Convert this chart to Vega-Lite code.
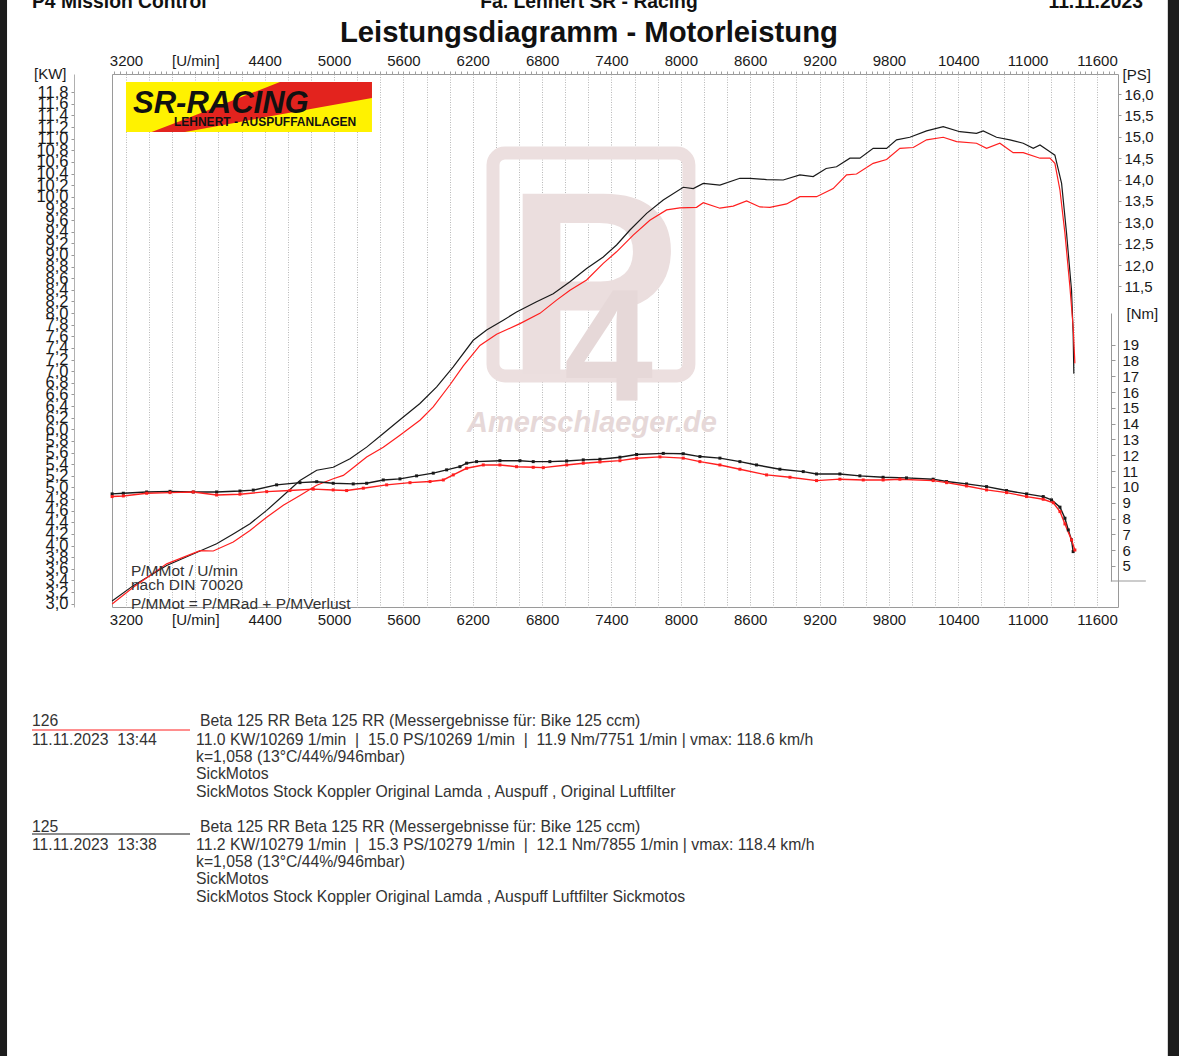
{
  "$schema": "https://vega.github.io/schema/vega-lite/v6.json",
  "width": 1006,
  "height": 533,
  "autosize": {"type": "none"},
  "padding": {"left": 112, "top": 74, "right": 61, "bottom": 449},
  "background": "#ffffff",
  "config": {
    "view": {"stroke": "#9a9a9a", "strokeWidth": 1},
    "font": "Liberation Sans",
    "axis": {"labelFont": "Liberation Sans", "labelFontSize": 15, "labelColor": "#1a1a1a", "titleFont": "Liberation Sans", "titleFontSize": 15, "titleFontWeight": "normal", "titleColor": "#1a1a1a", "domain": false, "ticks": false, "grid": false, "labelOverlap": false, "labelBound": false, "labelFlush": false}
  },
  "datasets": {
    "power": [
      {"run": "125", "rpm": 3080, "ps": 4.14}, {"run": "125", "rpm": 3263, "ps": 4.5}, {"run": "125", "rpm": 3552, "ps": 4.97}, {"run": "125", "rpm": 3840, "ps": 5.31}, {"run": "125", "rpm": 3984, "ps": 5.48}, {"run": "125", "rpm": 4128, "ps": 5.71}, {"run": "125", "rpm": 4273, "ps": 5.95}, {"run": "125", "rpm": 4417, "ps": 6.26}, {"run": "125", "rpm": 4561, "ps": 6.61}, {"run": "125", "rpm": 4705, "ps": 6.96}, {"run": "125", "rpm": 4850, "ps": 7.2}, {"run": "125", "rpm": 4993, "ps": 7.27}, {"run": "125", "rpm": 5138, "ps": 7.47}, {"run": "125", "rpm": 5282, "ps": 7.74}, {"run": "125", "rpm": 5426, "ps": 8.06}, {"run": "125", "rpm": 5570, "ps": 8.38}, {"run": "125", "rpm": 5743, "ps": 8.76}, {"run": "125", "rpm": 5888, "ps": 9.15}, {"run": "125", "rpm": 6031, "ps": 9.62}, {"run": "125", "rpm": 6204, "ps": 10.24}, {"run": "125", "rpm": 6320, "ps": 10.48}, {"run": "125", "rpm": 6464, "ps": 10.71}, {"run": "125", "rpm": 6579, "ps": 10.9}, {"run": "125", "rpm": 6752, "ps": 11.14}, {"run": "125", "rpm": 6896, "ps": 11.33}, {"run": "125", "rpm": 7041, "ps": 11.61}, {"run": "125", "rpm": 7185, "ps": 11.92}, {"run": "125", "rpm": 7329, "ps": 12.19}, {"run": "125", "rpm": 7444, "ps": 12.47}, {"run": "125", "rpm": 7560, "ps": 12.82}, {"run": "125", "rpm": 7704, "ps": 13.21}, {"run": "125", "rpm": 7848, "ps": 13.52}, {"run": "125", "rpm": 8021, "ps": 13.82}, {"run": "125", "rpm": 8108, "ps": 13.79}, {"run": "125", "rpm": 8194, "ps": 13.91}, {"run": "125", "rpm": 8338, "ps": 13.87}, {"run": "125", "rpm": 8511, "ps": 14.03}, {"run": "125", "rpm": 8598, "ps": 14.03}, {"run": "125", "rpm": 8742, "ps": 14.0}, {"run": "125", "rpm": 8886, "ps": 13.99}, {"run": "125", "rpm": 9030, "ps": 14.11}, {"run": "125", "rpm": 9145, "ps": 14.07}, {"run": "125", "rpm": 9257, "ps": 14.26}, {"run": "125", "rpm": 9347, "ps": 14.3}, {"run": "125", "rpm": 9463, "ps": 14.5}, {"run": "125", "rpm": 9549, "ps": 14.5}, {"run": "125", "rpm": 9664, "ps": 14.73}, {"run": "125", "rpm": 9780, "ps": 14.73}, {"run": "125", "rpm": 9866, "ps": 14.93}, {"run": "125", "rpm": 9981, "ps": 14.99}, {"run": "125", "rpm": 10126, "ps": 15.14}, {"run": "125", "rpm": 10270, "ps": 15.24}, {"run": "125", "rpm": 10414, "ps": 15.12}, {"run": "125", "rpm": 10558, "ps": 15.08}, {"run": "125", "rpm": 10616, "ps": 15.14}, {"run": "125", "rpm": 10731, "ps": 14.99}, {"run": "125", "rpm": 10847, "ps": 14.93}, {"run": "125", "rpm": 10962, "ps": 14.85}, {"run": "125", "rpm": 11049, "ps": 14.73}, {"run": "125", "rpm": 11107, "ps": 14.81}, {"run": "125", "rpm": 11193, "ps": 14.65}, {"run": "125", "rpm": 11236, "ps": 14.57}, {"run": "125", "rpm": 11294, "ps": 13.91}, {"run": "125", "rpm": 11337, "ps": 12.74}, {"run": "125", "rpm": 11380, "ps": 11.41}, {"run": "125", "rpm": 11394, "ps": 10.4}, {"run": "125", "rpm": 11400, "ps": 9.46},
      {"run": "126", "rpm": 3080, "ps": 4.07}, {"run": "126", "rpm": 3263, "ps": 4.46}, {"run": "126", "rpm": 3552, "ps": 5.01}, {"run": "126", "rpm": 3840, "ps": 5.32}, {"run": "126", "rpm": 3955, "ps": 5.31}, {"run": "126", "rpm": 4128, "ps": 5.52}, {"run": "126", "rpm": 4273, "ps": 5.79}, {"run": "126", "rpm": 4417, "ps": 6.1}, {"run": "126", "rpm": 4561, "ps": 6.38}, {"run": "126", "rpm": 4705, "ps": 6.61}, {"run": "126", "rpm": 4850, "ps": 6.85}, {"run": "126", "rpm": 4993, "ps": 7.0}, {"run": "126", "rpm": 5080, "ps": 7.08}, {"run": "126", "rpm": 5138, "ps": 7.2}, {"run": "126", "rpm": 5282, "ps": 7.51}, {"run": "126", "rpm": 5426, "ps": 7.74}, {"run": "126", "rpm": 5570, "ps": 8.02}, {"run": "126", "rpm": 5743, "ps": 8.37}, {"run": "126", "rpm": 5858, "ps": 8.68}, {"run": "126", "rpm": 6003, "ps": 9.2}, {"run": "126", "rpm": 6118, "ps": 9.64}, {"run": "126", "rpm": 6262, "ps": 10.12}, {"run": "126", "rpm": 6406, "ps": 10.38}, {"run": "126", "rpm": 6608, "ps": 10.63}, {"run": "126", "rpm": 6781, "ps": 10.87}, {"run": "126", "rpm": 6925, "ps": 11.18}, {"run": "126", "rpm": 7041, "ps": 11.41}, {"run": "126", "rpm": 7185, "ps": 11.65}, {"run": "126", "rpm": 7329, "ps": 12.04}, {"run": "126", "rpm": 7444, "ps": 12.31}, {"run": "126", "rpm": 7588, "ps": 12.7}, {"run": "126", "rpm": 7732, "ps": 13.05}, {"run": "126", "rpm": 7877, "ps": 13.29}, {"run": "126", "rpm": 7992, "ps": 13.34}, {"run": "126", "rpm": 8136, "ps": 13.35}, {"run": "126", "rpm": 8194, "ps": 13.46}, {"run": "126", "rpm": 8338, "ps": 13.33}, {"run": "126", "rpm": 8453, "ps": 13.38}, {"run": "126", "rpm": 8569, "ps": 13.5}, {"run": "126", "rpm": 8684, "ps": 13.36}, {"run": "126", "rpm": 8771, "ps": 13.35}, {"run": "126", "rpm": 8915, "ps": 13.43}, {"run": "126", "rpm": 9030, "ps": 13.6}, {"run": "126", "rpm": 9174, "ps": 13.6}, {"run": "126", "rpm": 9318, "ps": 13.79}, {"run": "126", "rpm": 9434, "ps": 14.11}, {"run": "126", "rpm": 9520, "ps": 14.13}, {"run": "126", "rpm": 9664, "ps": 14.38}, {"run": "126", "rpm": 9780, "ps": 14.47}, {"run": "126", "rpm": 9895, "ps": 14.73}, {"run": "126", "rpm": 10011, "ps": 14.75}, {"run": "126", "rpm": 10126, "ps": 14.93}, {"run": "126", "rpm": 10270, "ps": 14.99}, {"run": "126", "rpm": 10386, "ps": 14.89}, {"run": "126", "rpm": 10558, "ps": 14.85}, {"run": "126", "rpm": 10645, "ps": 14.73}, {"run": "126", "rpm": 10760, "ps": 14.85}, {"run": "126", "rpm": 10875, "ps": 14.63}, {"run": "126", "rpm": 10962, "ps": 14.63}, {"run": "126", "rpm": 11107, "ps": 14.5}, {"run": "126", "rpm": 11193, "ps": 14.5}, {"run": "126", "rpm": 11236, "ps": 14.38}, {"run": "126", "rpm": 11280, "ps": 13.75}, {"run": "126", "rpm": 11323, "ps": 12.74}, {"run": "126", "rpm": 11366, "ps": 11.49}, {"run": "126", "rpm": 11394, "ps": 10.55}, {"run": "126", "rpm": 11409, "ps": 9.7}
    ],
    "torque": [
      {"run": "125", "rpm": 3080, "nm": 9.56}, {"run": "125", "rpm": 3177, "nm": 9.6}, {"run": "125", "rpm": 3379, "nm": 9.68}, {"run": "125", "rpm": 3581, "nm": 9.72}, {"run": "125", "rpm": 3782, "nm": 9.68}, {"run": "125", "rpm": 3984, "nm": 9.68}, {"run": "125", "rpm": 4186, "nm": 9.74}, {"run": "125", "rpm": 4301, "nm": 9.8}, {"run": "125", "rpm": 4503, "nm": 10.13}, {"run": "125", "rpm": 4705, "nm": 10.27}, {"run": "125", "rpm": 4850, "nm": 10.33}, {"run": "125", "rpm": 4993, "nm": 10.23}, {"run": "125", "rpm": 5166, "nm": 10.19}, {"run": "125", "rpm": 5282, "nm": 10.23}, {"run": "125", "rpm": 5426, "nm": 10.44}, {"run": "125", "rpm": 5570, "nm": 10.51}, {"run": "125", "rpm": 5714, "nm": 10.7}, {"run": "125", "rpm": 5858, "nm": 10.87}, {"run": "125", "rpm": 5974, "nm": 11.08}, {"run": "125", "rpm": 6089, "nm": 11.28}, {"run": "125", "rpm": 6147, "nm": 11.5}, {"run": "125", "rpm": 6233, "nm": 11.6}, {"run": "125", "rpm": 6435, "nm": 11.66}, {"run": "125", "rpm": 6608, "nm": 11.66}, {"run": "125", "rpm": 6723, "nm": 11.6}, {"run": "125", "rpm": 6867, "nm": 11.6}, {"run": "125", "rpm": 7012, "nm": 11.64}, {"run": "125", "rpm": 7156, "nm": 11.71}, {"run": "125", "rpm": 7300, "nm": 11.75}, {"run": "125", "rpm": 7473, "nm": 11.88}, {"run": "125", "rpm": 7617, "nm": 12.05}, {"run": "125", "rpm": 7848, "nm": 12.12}, {"run": "125", "rpm": 8021, "nm": 12.1}, {"run": "125", "rpm": 8165, "nm": 11.92}, {"run": "125", "rpm": 8338, "nm": 11.82}, {"run": "125", "rpm": 8511, "nm": 11.6}, {"run": "125", "rpm": 8655, "nm": 11.39}, {"run": "125", "rpm": 8857, "nm": 11.12}, {"run": "125", "rpm": 9059, "nm": 10.97}, {"run": "125", "rpm": 9174, "nm": 10.82}, {"run": "125", "rpm": 9376, "nm": 10.82}, {"run": "125", "rpm": 9549, "nm": 10.7}, {"run": "125", "rpm": 9750, "nm": 10.61}, {"run": "125", "rpm": 9952, "nm": 10.57}, {"run": "125", "rpm": 10183, "nm": 10.49}, {"run": "125", "rpm": 10299, "nm": 10.34}, {"run": "125", "rpm": 10472, "nm": 10.19}, {"run": "125", "rpm": 10645, "nm": 10.02}, {"run": "125", "rpm": 10818, "nm": 9.77}, {"run": "125", "rpm": 10991, "nm": 9.56}, {"run": "125", "rpm": 11135, "nm": 9.39}, {"run": "125", "rpm": 11207, "nm": 9.18}, {"run": "125", "rpm": 11280, "nm": 8.72}, {"run": "125", "rpm": 11323, "nm": 8.02}, {"run": "125", "rpm": 11352, "nm": 7.28}, {"run": "125", "rpm": 11380, "nm": 6.65}, {"run": "125", "rpm": 11394, "nm": 5.91},
      {"run": "126", "rpm": 3080, "nm": 9.39}, {"run": "126", "rpm": 3177, "nm": 9.43}, {"run": "126", "rpm": 3379, "nm": 9.6}, {"run": "126", "rpm": 3581, "nm": 9.64}, {"run": "126", "rpm": 3782, "nm": 9.68}, {"run": "126", "rpm": 3984, "nm": 9.49}, {"run": "126", "rpm": 4186, "nm": 9.54}, {"run": "126", "rpm": 4417, "nm": 9.7}, {"run": "126", "rpm": 4618, "nm": 9.77}, {"run": "126", "rpm": 4820, "nm": 9.86}, {"run": "126", "rpm": 4993, "nm": 9.81}, {"run": "126", "rpm": 5109, "nm": 9.77}, {"run": "126", "rpm": 5253, "nm": 9.92}, {"run": "126", "rpm": 5455, "nm": 10.13}, {"run": "126", "rpm": 5657, "nm": 10.27}, {"run": "126", "rpm": 5830, "nm": 10.34}, {"run": "126", "rpm": 5945, "nm": 10.44}, {"run": "126", "rpm": 6031, "nm": 10.76}, {"run": "126", "rpm": 6147, "nm": 11.18}, {"run": "126", "rpm": 6291, "nm": 11.39}, {"run": "126", "rpm": 6435, "nm": 11.39}, {"run": "126", "rpm": 6579, "nm": 11.28}, {"run": "126", "rpm": 6723, "nm": 11.24}, {"run": "126", "rpm": 6810, "nm": 11.22}, {"run": "126", "rpm": 7012, "nm": 11.39}, {"run": "126", "rpm": 7156, "nm": 11.5}, {"run": "126", "rpm": 7300, "nm": 11.58}, {"run": "126", "rpm": 7473, "nm": 11.66}, {"run": "126", "rpm": 7617, "nm": 11.81}, {"run": "126", "rpm": 7819, "nm": 11.9}, {"run": "126", "rpm": 8021, "nm": 11.82}, {"run": "126", "rpm": 8165, "nm": 11.6}, {"run": "126", "rpm": 8338, "nm": 11.39}, {"run": "126", "rpm": 8511, "nm": 11.12}, {"run": "126", "rpm": 8742, "nm": 10.76}, {"run": "126", "rpm": 8944, "nm": 10.61}, {"run": "126", "rpm": 9174, "nm": 10.4}, {"run": "126", "rpm": 9376, "nm": 10.49}, {"run": "126", "rpm": 9578, "nm": 10.44}, {"run": "126", "rpm": 9750, "nm": 10.44}, {"run": "126", "rpm": 9895, "nm": 10.49}, {"run": "126", "rpm": 10183, "nm": 10.4}, {"run": "126", "rpm": 10299, "nm": 10.27}, {"run": "126", "rpm": 10472, "nm": 10.06}, {"run": "126", "rpm": 10645, "nm": 9.81}, {"run": "126", "rpm": 10818, "nm": 9.64}, {"run": "126", "rpm": 10991, "nm": 9.39}, {"run": "126", "rpm": 11135, "nm": 9.22}, {"run": "126", "rpm": 11222, "nm": 9.0}, {"run": "126", "rpm": 11280, "nm": 8.44}, {"run": "126", "rpm": 11323, "nm": 7.66}, {"run": "126", "rpm": 11380, "nm": 6.65}, {"run": "126", "rpm": 11409, "nm": 6.01}
    ]
  },
  "layer": [
    {
      "layer": [
        {
          "data": {"name": "power"},
          "mark": {"type": "point", "opacity": 0},
          "encoding": {
            "x": {"field": "rpm", "type": "quantitative", "scale": {"domain": [3079, 11782], "nice": false, "zero": false}, "axis": null},
            "y": {"field": "ps", "type": "quantitative", "scale": {"domain": [4, 16.47], "nice": false, "zero": false},
              "axis": {"orient": "left", "values": [4, 4.5, 5, 5.5, 6, 6.5, 7, 7.5, 8, 8.5, 9, 9.5, 10, 10.5, 11, 11.5, 12, 12.5, 13, 13.5, 14, 14.5, 15, 15.5, 16], "labelExpr": "replace(format(datum.value, '.1f'), '.', ',')", "grid": true, "gridColor": "#a8a8a8", "gridDash": [1, 2], "labelPadding": 4, "title": "[PS]", "titleAngle": 0, "titleAlign": "right", "titleBaseline": "middle", "titleX": -2, "titleY": 0}}
          }
        },
        {
          "data": {"values": [{"rpm": 2110, "rpm2": 2171, "ps": -6.6, "ps2": 18.3}, {"rpm": 12213, "rpm2": 12330, "ps": -6.6, "ps2": 18.3}]},
          "mark": {"type": "rect", "color": "#1c1c1c"},
          "encoding": {"x": {"field": "rpm", "type": "quantitative", "axis": null}, "x2": {"field": "rpm2"}, "y": {"field": "ps", "type": "quantitative", "axis": null}, "y2": {"field": "ps2"}}
        },
        {
          "data": {"values": [{"rpm": 6375, "rpm2": 8070, "ps": 9.405, "ps2": 14.622}]},
          "mark": {"type": "rect", "fill": "transparent", "stroke": "#ecdfdf", "strokeWidth": 13, "cornerRadius": 12},
          "encoding": {"x": {"field": "rpm", "type": "quantitative", "axis": null}, "x2": {"field": "rpm2"}, "y": {"field": "ps", "type": "quantitative", "axis": null}, "y2": {"field": "ps2"}}
        },
        {
          "data": {"values": [{"rpm": 6480, "ps": 9.45, "t": "P"}]},
          "mark": {"type": "text", "align": "left", "baseline": "alphabetic", "font": "Liberation Sans", "fontWeight": "bold", "fontSize": 262, "color": "#ebdede"},
          "encoding": {"x": {"field": "rpm", "type": "quantitative", "axis": null}, "y": {"field": "ps", "type": "quantitative", "axis": null}, "text": {"field": "t"}}
        },
        {
          "data": {"values": [{"rpm": 6990, "ps": 8.843, "t": "4"}]},
          "mark": {"type": "text", "align": "left", "baseline": "alphabetic", "font": "Liberation Sans", "fontWeight": "bold", "fontSize": 160, "color": "#e6d8d8"},
          "encoding": {"x": {"field": "rpm", "type": "quantitative", "axis": null}, "y": {"field": "ps", "type": "quantitative", "axis": null}, "text": {"field": "t"}}
        },
        {
          "data": {"values": [{"rpm": 7231, "ps": 8.305, "t": "Amerschlaeger.de"}]},
          "mark": {"type": "text", "align": "center", "baseline": "middle", "fontWeight": "bold", "fontStyle": "italic", "fontSize": 29, "color": "#e6d8d8"},
          "encoding": {"x": {"field": "rpm", "type": "quantitative", "axis": null}, "y": {"field": "ps", "type": "quantitative", "axis": null}, "text": {"field": "t"}}
        },
        {
          "data": {"values": [{"rpm": 3200, "rpm2": 5328, "ps": 15.114, "ps2": 16.284}]},
          "mark": {"type": "rect", "color": "#fff200"},
          "encoding": {"x": {"field": "rpm", "type": "quantitative", "axis": null}, "x2": {"field": "rpm2"}, "y": {"field": "ps", "type": "quantitative", "axis": null}, "y2": {"field": "ps2"}}
        },
        {
          "data": {"values": [{"rpm": 3422, "ps": 15.114, "ps2": 15.114}, {"rpm": 3710, "ps": 15.114, "ps2": 15.41}, {"rpm": 4532, "ps": 15.52, "ps2": 16.284}, {"rpm": 5328, "ps": 15.909, "ps2": 16.284}]},
          "mark": {"type": "area", "color": "#e3231e", "opacity": 1},
          "encoding": {"x": {"field": "rpm", "type": "quantitative", "axis": null}, "y": {"field": "ps", "type": "quantitative", "axis": null}, "y2": {"field": "ps2"}}
        },
        {
          "data": {"values": [{"rpm": 3261, "ps": 15.558, "t": "SR-RACING"}]},
          "mark": {"type": "text", "align": "left", "baseline": "alphabetic", "fontWeight": "bold", "fontStyle": "italic", "fontSize": 31, "color": "#111111"},
          "encoding": {"x": {"field": "rpm", "type": "quantitative", "axis": null}, "y": {"field": "ps", "type": "quantitative", "axis": null}, "text": {"field": "t"}}
        },
        {
          "data": {"values": [{"rpm": 3615, "ps": 15.254, "t": "LEHNERT - AUSPUFFANLAGEN"}]},
          "mark": {"type": "text", "align": "left", "baseline": "alphabetic", "fontWeight": "bold", "fontSize": 12, "color": "#111111"},
          "encoding": {"x": {"field": "rpm", "type": "quantitative", "axis": null}, "y": {"field": "ps", "type": "quantitative", "axis": null}, "text": {"field": "t"}}
        },
        {
          "data": {"name": "power"},
          "mark": {"type": "line", "strokeWidth": 1.2},
          "encoding": {
            "x": {"field": "rpm", "type": "quantitative", "axis": null},
            "y": {"field": "ps", "type": "quantitative", "axis": null},
            "color": {"field": "run", "type": "nominal", "scale": {"domain": ["125", "126"], "range": ["#1a1a1a", "#ff1f1f"]}, "legend": null}
          }
        },
        {
          "data": {"values": [{"rpm": 3243, "ps": 4.842, "t": "P/MMot / U/min"}, {"rpm": 3243, "ps": 4.515, "t": "nach DIN 70020"}, {"rpm": 3243, "ps": 4.07, "t": "P/MMot = P/MRad + P/MVerlust"}]},
          "mark": {"type": "text", "align": "left", "baseline": "middle", "fontSize": 15.5, "color": "#333333"},
          "encoding": {"x": {"field": "rpm", "type": "quantitative", "axis": null}, "y": {"field": "ps", "type": "quantitative", "axis": null}, "text": {"field": "t"}}
        },
        {
          "data": {"values": [{"rpm": 2387, "ps": 18.015, "t": "P4 Mission Control"}]},
          "mark": {"type": "text", "align": "left", "baseline": "alphabetic", "fontWeight": "bold", "fontSize": 19.3, "color": "#111111"},
          "encoding": {"x": {"field": "rpm", "type": "quantitative", "axis": null}, "y": {"field": "ps", "type": "quantitative", "axis": null}, "text": {"field": "t"}}
        },
        {
          "data": {"values": [{"rpm": 7205, "ps": 18.015, "t": "Fa. Lehnert SR - Racing"}]},
          "mark": {"type": "text", "align": "center", "baseline": "alphabetic", "fontWeight": "bold", "fontSize": 19.3, "color": "#111111"},
          "encoding": {"x": {"field": "rpm", "type": "quantitative", "axis": null}, "y": {"field": "ps", "type": "quantitative", "axis": null}, "text": {"field": "t"}}
        },
        {
          "data": {"values": [{"rpm": 11997, "ps": 18.015, "t": "11.11.2023"}]},
          "mark": {"type": "text", "align": "right", "baseline": "alphabetic", "fontWeight": "bold", "fontSize": 19.3, "color": "#111111"},
          "encoding": {"x": {"field": "rpm", "type": "quantitative", "axis": null}, "y": {"field": "ps", "type": "quantitative", "axis": null}, "text": {"field": "t"}}
        },
        {
          "data": {"values": [{"rpm": 7205, "ps": 17.219, "t": "Leistungsdiagramm - Motorleistung"}]},
          "mark": {"type": "text", "align": "center", "baseline": "alphabetic", "fontWeight": "bold", "fontSize": 29.3, "color": "#111111"},
          "encoding": {"x": {"field": "rpm", "type": "quantitative", "axis": null}, "y": {"field": "ps", "type": "quantitative", "axis": null}, "text": {"field": "t"}}
        },
        {
          "data": {"values": [
            {"rpm": 2387, "ps": 1.333, "t": "126"},
            {"rpm": 2387, "ps": 0.888, "t": "11.11.2023\u00a0\u00a013:44"},
            {"rpm": 2387, "ps": -1.147, "t": "125"},
            {"rpm": 2387, "ps": -1.569, "t": "11.11.2023\u00a0\u00a013:38"},
            {"rpm": 3840, "ps": 1.333, "t": "Beta 125 RR Beta 125 RR (Messergebnisse für: Bike 125 ccm)"},
            {"rpm": 3806, "ps": 0.888, "t": "11.0 KW/10269 1/min\u00a0\u00a0|\u00a0\u00a015.0 PS/10269 1/min\u00a0\u00a0|\u00a0\u00a011.9 Nm/7751 1/min | vmax: 118.6 km/h"},
            {"rpm": 3806, "ps": 0.49, "t": "k=1,058 (13°C/44%/946mbar)"},
            {"rpm": 3806, "ps": 0.093, "t": "SickMotos"},
            {"rpm": 3806, "ps": -0.328, "t": "SickMotos Stock Koppler Original Lamda , Auspuff , Original Luftfilter"},
            {"rpm": 3840, "ps": -1.147, "t": "Beta 125 RR Beta 125 RR (Messergebnisse für: Bike 125 ccm)"},
            {"rpm": 3806, "ps": -1.569, "t": "11.2 KW/10279 1/min\u00a0\u00a0|\u00a0\u00a015.3 PS/10279 1/min\u00a0\u00a0|\u00a0\u00a012.1 Nm/7855 1/min | vmax: 118.4 km/h"},
            {"rpm": 3806, "ps": -1.966, "t": "k=1,058 (13°C/44%/946mbar)"},
            {"rpm": 3806, "ps": -2.364, "t": "SickMotos"},
            {"rpm": 3806, "ps": -2.785, "t": "SickMotos Stock Koppler Original Lamda , Auspuff Luftfilter Sickmotos"}
          ]},
          "mark": {"type": "text", "align": "left", "baseline": "middle", "fontSize": 15.75, "color": "#333333"},
          "encoding": {"x": {"field": "rpm", "type": "quantitative", "axis": null}, "y": {"field": "ps", "type": "quantitative", "axis": null}, "text": {"field": "t"}}
        },
        {
          "data": {"values": [{"rpm": 2387, "rpm2": 3754, "ps": 1.122, "c": "126"}, {"rpm": 2387, "rpm2": 3754, "ps": -1.311, "c": "125"}]},
          "mark": {"type": "rule", "strokeWidth": 1},
          "encoding": {"x": {"field": "rpm", "type": "quantitative", "axis": null}, "x2": {"field": "rpm2"}, "y": {"field": "ps", "type": "quantitative", "axis": null},
            "color": {"field": "c", "type": "nominal", "scale": {"domain": ["125", "126"], "range": ["#555555", "#ff3030"]}, "legend": null}}
        }
      ]
    },
    {
      "data": {"name": "power"},
      "mark": {"type": "point", "opacity": 0},
      "encoding": {
        "x": {"field": "rpm", "type": "quantitative", "axis": {"orient": "bottom", "values": [3200, 3400, 3600, 3800, 4000, 4200, 4400, 4600, 4800, 5000, 5200, 5400, 5600, 5800, 6000, 6200, 6400, 6600, 6800, 7000, 7200, 7400, 7600, 7800, 8000, 8200, 8400, 8600, 8800, 9000, 9200, 9400, 9600, 9800, 10000, 10200, 10400, 10600, 10800, 11000, 11200, 11400, 11600], "grid": true, "gridColor": "#b8b8b8", "gridDash": [1, 1.5], "labels": false, "title": null}},
        "y": {"field": "ps", "type": "quantitative", "scale": {"domain": [4, 16.47], "nice": false, "zero": false}, "axis": null}
      }
    },
    {
      "data": {"name": "power"},
      "mark": {"type": "point", "opacity": 0},
      "encoding": {
        "x": {"field": "rpm", "type": "quantitative", "axis": {"orient": "top", "tickCount": 175, "ticks": true, "tickSize": 3, "tickColor": "#a0a0a0", "labels": false, "title": null}},
        "y": {"field": "ps", "type": "quantitative", "scale": {"domain": [4, 16.47], "nice": false, "zero": false}, "axis": null}
      }
    },
    {
      "data": {"name": "power"},
      "mark": {"type": "point", "opacity": 0},
      "encoding": {
        "x": {"field": "rpm", "type": "quantitative", "axis": {"orient": "top", "values": [3200, 3800, 4400, 5000, 5600, 6200, 6800, 7400, 8000, 8600, 9200, 9800, 10400, 11000, 11600], "format": "d", "labelExpr": "datum.value == 3800 ? '[U/min]' : datum.label", "labelPadding": 6, "title": null}},
        "y": {"field": "ps", "type": "quantitative", "scale": {"domain": [4, 16.47], "nice": false, "zero": false}, "axis": null}
      }
    },
    {
      "data": {"name": "power"},
      "mark": {"type": "point", "opacity": 0},
      "encoding": {
        "x": {"field": "rpm", "type": "quantitative", "axis": {"orient": "bottom", "values": [3200, 3800, 4400, 5000, 5600, 6200, 6800, 7400, 8000, 8600, 9200, 9800, 10400, 11000, 11600], "format": "d", "labelExpr": "datum.value == 3800 ? '[U/min]' : datum.label", "labelPadding": 5, "title": null}},
        "y": {"field": "ps", "type": "quantitative", "scale": {"domain": [4, 16.47], "nice": false, "zero": false}, "axis": null}
      }
    },
    {
      "data": {"values": [{"kw": 3}, {"kw": 12}]},
      "mark": {"type": "point", "opacity": 0},
      "encoding": {
        "y": {"field": "kw", "type": "quantitative", "scale": {"domain": [2.942, 12.114], "nice": false, "zero": false},
          "axis": {"orient": "left", "offset": 38, "values": [3, 3.2, 3.4, 3.6, 3.8, 4, 4.2, 4.4, 4.6, 4.8, 5, 5.2, 5.4, 5.6, 5.8, 6, 6.2, 6.4, 6.6, 6.8, 7, 7.2, 7.4, 7.6, 7.8, 8, 8.2, 8.4, 8.6, 8.8, 9, 9.2, 9.4, 9.6, 9.8, 10, 10.2, 10.4, 10.6, 10.8, 11, 11.2, 11.4, 11.6, 11.8], "labelExpr": "replace(format(datum.value, '.1f'), '.', ',')", "labelFontSize": 16.5, "domain": true, "domainColor": "#b0b0b0", "ticks": true, "tickSize": 3, "tickColor": "#999999", "labelPadding": 3, "title": "[KW]", "titleAngle": 0, "titleAlign": "right", "titleBaseline": "middle", "titleX": -8, "titleY": -1}}
      }
    },
    {
      "data": {"values": [{"p": 4}, {"p": 16}]},
      "mark": {"type": "point", "opacity": 0},
      "encoding": {
        "y": {"field": "p", "type": "quantitative", "scale": {"domain": [4, 16.47], "nice": false, "zero": false},
          "axis": {"orient": "right", "values": [11.5, 12, 12.5, 13, 13.5, 14, 14.5, 15, 15.5, 16], "labelExpr": "replace(format(datum.value, '.1f'), '.', ',')", "ticks": true, "tickSize": 3, "tickColor": "#999999", "labelPadding": 3, "title": "[PS]", "titleAngle": 0, "titleAlign": "left", "titleBaseline": "middle", "titleX": 4, "titleY": 0}}
      }
    },
    {
      "data": {"values": [{"rpm": 11720, "rpm2": 12023, "nm": 4.05}]},
      "mark": {"type": "rule", "color": "#999999", "strokeWidth": 1},
      "encoding": {"x": {"field": "rpm", "type": "quantitative", "axis": null}, "x2": {"field": "rpm2"}, "y": {"field": "nm", "type": "quantitative", "scale": {"domain": [4.05, 21.0], "range": [507, 239], "nice": false, "zero": false}, "axis": null}}
    },
    {
      "data": {"name": "torque"},
      "mark": {"type": "line", "strokeWidth": 1.4, "point": {"filled": true, "shape": "square", "size": 9}},
      "encoding": {
        "x": {"field": "rpm", "type": "quantitative", "axis": null},
        "y": {"field": "nm", "type": "quantitative", "scale": {"domain": [4.05, 21.0], "range": [507, 239], "nice": false, "zero": false},
          "axis": {"orient": "right", "offset": -7, "values": [5, 6, 7, 8, 9, 10, 11, 12, 13, 14, 15, 16, 17, 18, 19], "domain": true, "domainColor": "#999999", "ticks": true, "tickSize": 4, "tickColor": "#999999", "labelPadding": 7, "title": "[Nm]", "titleAngle": 0, "titleAlign": "left", "titleBaseline": "middle", "titleX": 15, "titleY": 239}},
        "color": {"field": "run", "type": "nominal", "scale": {"domain": ["125", "126"], "range": ["#1a1a1a", "#ff1f1f"]}, "legend": null}
      }
    }
  ],
  "resolve": {"scale": {"y": "independent", "color": "independent"}, "axis": {"x": "independent", "y": "independent"}}
}
